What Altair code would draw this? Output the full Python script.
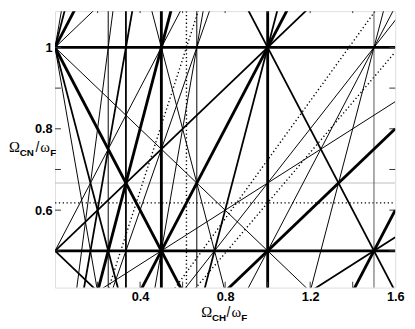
import altair as alt
import pandas as pd

# Resonance lines: each line is given by two points on it
# (x = Omega_CH / omega_F, y = Omega_CN / omega_F); kind = line style class
G = 0.618
x1 = [0.618, 0.0, 0.2472, 0.6472, 0.5528,          # dotted
      0.0,                                          # gray horizontal
      0.25, 0.6667, 1.5,                            # thin verticals
      0.0, 0.0, 1.2, 0.45, 0.9, 0.0, 0.2, 0.4667, 0.0, 0.0, 0.2667, 0.6, 0.1,  # thin
      0.3333, 0.9, 0.0, 0.0, 0.7, 0.0, 0.0, 1.2, 0.1333,                        # medium
      0.0, 0.0, 0.5, 1.0, 0.4, 0.0, 0.0, 1.4, 0.8, 0.2]                         # thick
y1 = [0.40, G, 0.40, 0.40, 0.40,
      0.6667,
      0.40, 0.40, 0.40,
      1.0, 1.0, 0.40, 1.1, 0.40, 0.5, 0.40, 0.40, 1.0, 1.0, 0.40, 0.40, 0.40,
      0.40, 1.1, 1.0, 1.0, 0.40, 0.5, 0.5, 0.40, 0.40,
      1.0, 0.5, 0.40, 0.40, 0.40, 1.0, 1.0, 0.40, 0.40, 0.40]
x2 = [0.618, 1.6, 0.6798, 1.6, 1.5202,
      1.6,
      0.25, 0.6667, 1.5,
      1.6, 0.2, 1.55, 0.8, 1.6, 0.6, 1.6, 0.7, 0.2, 0.0333, 0.7333, 1.65, 0.275,
      0.3333, 1.6, 0.3, 0.05, 1.05, 0.2, 1.2, 1.6, 0.3667,
      1.6, 1.6, 0.5, 1.0, 1.1, 0.6, 0.1, 1.6, 1.6, 0.55]
y2 = [1.1, G, 1.1, 0.9889, 1.1,
      0.6667,
      1.1, 1.1, 1.1,
      0.2, 1.1, 1.1, 0.40, 1.1, 1.1, 0.8667, 1.1, 0.40, 1.1, 1.1, 1.1, 1.1,
      1.1, 0.40, 0.40, 1.1, 1.1, 0.40, 1.1, 0.5333, 1.1,
      1.0, 0.5, 1.1, 1.1, 1.1, 0.40, 1.1, 0.6, 0.8, 1.1]
kind = (["dotted"] * 5 + ["gray"] + ["thin", "thin", "thingray"] + ["thin"] * 13
        + ["medium"] * 9 + ["thick"] * 10)

x_ticks = [0.2, 0.4, 0.6, 0.8, 1.0, 1.2, 1.4]
y_ticks = [0.5, 0.6, 0.7, 0.8, 0.9, 1.0]
x_labels = [0.4, 0.8, 1.2, 1.6]
y_labels = [0.6, 0.8, 1.0]

W, H = 347, 282
xs = alt.Scale(domain=[0.0, 1.6], nice=False, zero=False)
ys = alt.Scale(domain=[0.4096, 1.0892], nice=False, zero=False)

ax_x = alt.Axis(values=x_labels, format="~g", ticks=False, tickSize=0, domain=False,
                grid=False, labelFont="Liberation Sans", labelFontWeight="bold",
                labelFontSize=13, labelColor="black", labelPadding=3,
                labelFlush=False, labelOverlap=False, labelBound=False, title=None)
ax_y = alt.Axis(values=y_labels, format="~g", ticks=False, tickSize=0, domain=False,
                grid=False, labelFont="Liberation Sans", labelFontWeight="bold",
                labelFontSize=13, labelColor="black", labelPadding=3,
                labelFlush=False, labelOverlap=False, title=None)

df = pd.DataFrame(dict(x1=x1, y1=y1, x2=x2, y2=y2, kind=kind))

styles = {
    "gray": dict(color="#bdbdbd", strokeWidth=1.0),
    "dotted": dict(color="black", strokeWidth=1.4, strokeDash=[1.3, 2.6]),
    "thingray": dict(color="#555555", strokeWidth=1.0),
    "thin": dict(color="black", strokeWidth=1.0),
    "medium": dict(color="black", strokeWidth=1.8),
    "thick": dict(color="black", strokeWidth=2.9),
}

base = alt.Chart(df)
line_layers = []
for k, st in styles.items():
    line_layers.append(
        base.transform_filter(alt.datum.kind == k)
        .mark_rule(clip=True, strokeCap="butt", **st)
        .encode(x=alt.X("x1:Q", scale=xs, axis=ax_x),
                y=alt.Y("y1:Q", scale=ys, axis=ax_y),
                x2="x2:Q", y2="y2:Q")
    )

tx = pd.DataFrame({"t": x_ticks})
ty = pd.DataFrame({"t": y_ticks})
tick_b = alt.Chart(tx).mark_rule(color="#333", strokeWidth=1).encode(
    x=alt.X("t:Q", scale=xs, axis=ax_x), y=alt.value(H), y2=alt.value(H - 6))
tick_t = alt.Chart(tx).mark_rule(color="#333", strokeWidth=1).encode(
    x=alt.X("t:Q", scale=xs, axis=ax_x), y=alt.value(0), y2=alt.value(2))
tick_l = alt.Chart(ty).mark_rule(color="#333", strokeWidth=1).encode(
    y=alt.Y("t:Q", scale=ys, axis=ax_y), x=alt.value(0), x2=alt.value(6))
tick_r = alt.Chart(ty).mark_rule(color="#333", strokeWidth=1).encode(
    y=alt.Y("t:Q", scale=ys, axis=ax_y), x=alt.value(W), x2=alt.value(W - 6))

one = pd.DataFrame({"a": [0]})


def txt(s, x, y, size, weight="normal", font="Liberation Sans"):
    return alt.Chart(one).mark_text(
        text=s, align="left", baseline="alphabetic", fontSize=size,
        fontWeight=weight, font=font, color="black").encode(
        x=alt.value(x), y=alt.value(y))


# axis titles built from pieces (subscripts)
titles = [
    txt("Ω", 149, 312, 15, font="Liberation Serif"),
    txt("CH", 160, 316, 10, "bold"),
    txt("/", 175, 312, 14),
    txt("ω", 180, 312, 15, font="Liberation Serif"),
    txt("F", 190, 316, 10, "bold"),
    txt("Ω", -47, 144, 15, font="Liberation Serif"),
    txt("CN", -36, 148, 10, "bold"),
    txt("/", -20, 144, 14),
    txt("ω", -15, 144, 15, font="Liberation Serif"),
    txt("F", -5, 148, 10, "bold"),
]

chart = alt.layer(*line_layers, tick_b, tick_t, tick_l, tick_r, *titles).properties(
    width=W, height=H,
    autosize=alt.AutoSizeParams(type="none"),
    padding={"left": 48, "top": 0, "right": 12, "bottom": 39},
).configure_view(stroke="#333", strokeWidth=1.2).configure(background="white")

chart.save("out.html", embed_options={"renderer": "svg", "actions": False})
